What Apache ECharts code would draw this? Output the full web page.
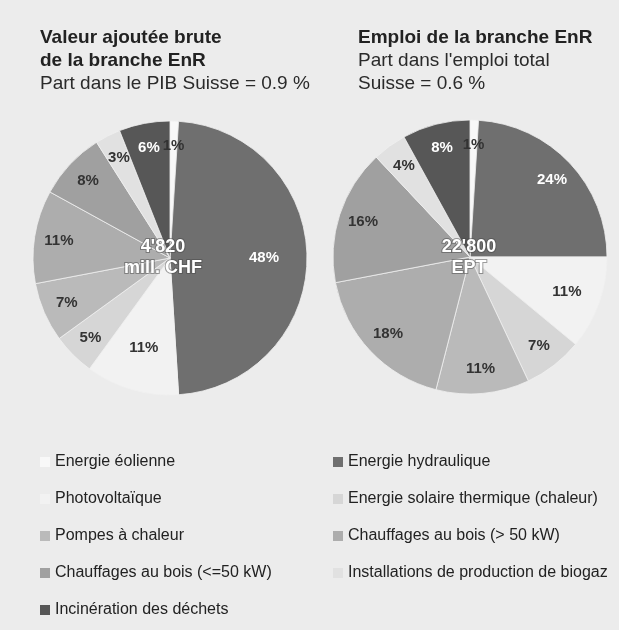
<!DOCTYPE html>
<html>
<head>
<meta charset="utf-8">
<script src="https://cdn.jsdelivr.net/npm/echarts@6/dist/echarts.min.js"></script>
<style>
  html, body { margin: 0; padding: 0; background: #ececec; }
  #chart { width: 619px; height: 630px; }
</style>
</head>
<body>
<div id="chart"></div>
<script>
// categories, in clockwise order from 12 o'clock
var categories = [
  'Energie éolienne',
  'Energie hydraulique',
  'Photovoltaïque',
  'Energie solaire thermique (chaleur)',
  'Pompes à chaleur',
  'Chauffages au bois (> 50 kW)',
  'Chauffages au bois (<=50 kW)',
  'Installations de production de biogaz',
  'Incinération des déchets'
];
var valeurAjoutee = [1, 48, 11, 5, 7, 11, 8, 3, 6];
var emploi = [1, 24, 11, 7, 11, 18, 16, 4, 8];
var colors = ['#f8f8f8', '#6f6f6f', '#f2f2f2', '#d6d6d6', '#bababa', '#adadad', '#a0a0a0', '#e1e1e1', '#575757'];
var labelColors = ['#333', '#fff', '#333', '#333', '#333', '#333', '#333', '#333', '#fff'];
var legendLeft = [categories[0], categories[2], categories[4], categories[6], categories[8]];
var legendRight = [categories[1], categories[3], categories[5], categories[7]];

var font = 'Liberation Sans, Arial, sans-serif';

function pieData(values) {
  return values.map(function (v, i) {
    return { name: categories[i], value: v, itemStyle: { color: colors[i] } };
  });
}

// transparent ring used only to place the % labels further out than the default
function labelPie(values, center, inner, showIdx) {
  return {
    type: 'pie',
    center: center,
    radius: [inner, 137],
    startAngle: 90,
    clockwise: true,
    animation: false,
    silent: true,
    legendHoverLink: false,
    itemStyle: { color: 'rgba(0,0,0,0)', borderWidth: 0 },
    label: {
      position: 'inside',
      formatter: '{c}%',
      fontFamily: font,
      fontWeight: 'bold',
      fontSize: 15
    },
    labelLine: { show: false },
    data: values.map(function (v, i) {
      return {
        name: categories[i], value: v,
        label: { show: showIdx(i), color: labelColors[i] }
      };
    })
  };
}

function mainPie(values, center) {
  return {
    type: 'pie',
    center: center,
    radius: 137,
    startAngle: 90,
    clockwise: true,
    animation: false,
    silent: true,
    label: { show: false },
    labelLine: { show: false },
    itemStyle: { borderColor: '#f0f0f0', borderWidth: 0.8 },
    data: pieData(values)
  };
}

var chart = echarts.init(document.getElementById('chart'));

var titleStyle = { fontFamily: font, fontSize: 19, fontWeight: 'bold', color: '#222', lineHeight: 23 };
var subStyle = { fontFamily: font, fontSize: 19, color: '#2a2a2a', lineHeight: 23 };
var centerStyle = {
  fontFamily: font, fontSize: 18, fontWeight: 'bold', fill: '#fff',
  align: 'center', verticalAlign: 'middle', lineHeight: 21,
  stroke: 'rgba(70,70,70,0.5)', lineWidth: 2
};

var legendBase = {
  orient: 'vertical',
  top: 454,
  padding: 0,
  icon: 'rect',
  itemWidth: 10,
  itemHeight: 10,
  itemGap: 21,
  selectedMode: false,
  itemStyle: { borderWidth: 0 },
  textStyle: { fontFamily: font, fontSize: 16, color: '#222', lineHeight: 16 }
};

var leftC = [170, 258];
var rightC = [470, 257];
var leftNear = [1, 2];
var rightNear = [2];

chart.setOption({
  backgroundColor: '#ececec',
  title: [
    {
      text: 'Valeur ajoutée brute\nde la branche EnR',
      subtext: 'Part dans le PIB Suisse = 0.9 %',
      left: 40, top: 26, itemGap: 0, padding: 0,
      textStyle: titleStyle, subtextStyle: subStyle
    },
    {
      text: 'Emploi de la branche EnR',
      subtext: "Part dans l'emploi total\nSuisse = 0.6 %",
      left: 358, top: 26, itemGap: 0, padding: 0,
      textStyle: titleStyle, subtextStyle: subStyle
    }
  ],
  legend: [
    Object.assign({}, legendBase, { left: 40, data: legendLeft }),
    Object.assign({}, legendBase, { left: 333, data: legendRight })
  ],
  series: [
    mainPie(valeurAjoutee, leftC),
    mainPie(emploi, rightC),
    labelPie(valeurAjoutee, leftC, 82, function (i) { return leftNear.indexOf(i) < 0; }),
    labelPie(valeurAjoutee, leftC, 45, function (i) { return leftNear.indexOf(i) >= 0; }),
    labelPie(emploi, rightC, 82, function (i) { return rightNear.indexOf(i) < 0; }),
    labelPie(emploi, rightC, 63, function (i) { return rightNear.indexOf(i) >= 0; })
  ],
  graphic: [
    { type: 'text', x: 163, y: 258, z: 100, silent: true, style: Object.assign({ text: "4'820\nmill. CHF" }, centerStyle) },
    { type: 'text', x: 469, y: 258, z: 100, silent: true, style: Object.assign({ text: "22'800\nEPT" }, centerStyle) }
  ]
});
</script>
</body>
</html>
